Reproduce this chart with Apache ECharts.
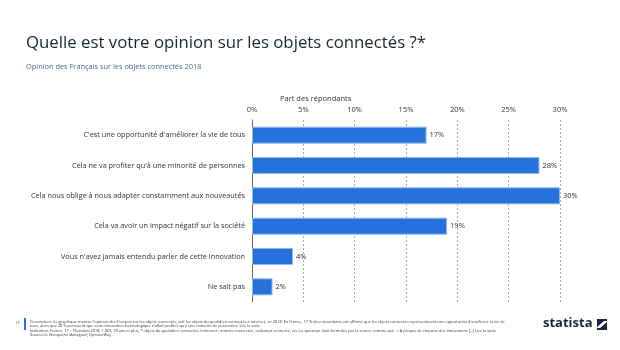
<!DOCTYPE html>
<html><head><meta charset="utf-8">
<script src="https://cdn.jsdelivr.net/npm/echarts@6/dist/echarts.min.js"></script>
<style>html,body{margin:0;padding:0;background:#fff}#c{width:620px;height:350px}</style>
</head><body><div id="c"></div>
<script>
var categories = [
  "C'est une opportunité d'améliorer la vie de tous",
  "Cela ne va profiter qu'à une minorité de personnes",
  "Cela nous oblige à nous adapter constamment aux nouveautés",
  "Cela va avoir un impact négatif sur la société",
  "Vous n'avez jamais entendu parler de cette innovation",
  "Ne sait pas"
];
var values = [17, 28, 30, 19, 4, 2];
var tickMax = 30;
var tickStep = 5;

var footer = "Description: Ce graphique montre l'opinion des Français sur les objets connectés, soit les objets du quotidien connectés à internet, en 2018. En France, 17 % des répondants ont affirmé que les objets connectés représentaient une opportunité d'améliorer la vie de tous, alors que 28 % pensaient que cette innovation technologique n'allait profiter qu'à une minorité de personnes. Lire la suite\nIndication: France; 17 - 19octobre2018; 1.063; 18 ans et plus; * objets du quotidien connectés à internet : montre connectée, radiateur connecté, etc. La question était formulée par la source comme suit : « A propos de chacune des innovations [...] Lire la suite\nSource(s): Groupama (Amaguiz); OpinionWay";

var chart = echarts.init(document.getElementById('c'), null, {renderer: 'canvas'});
var font = "'Open Sans', 'Noto Sans', sans-serif";
chart.setOption({
  animation: false,
  textStyle: {fontFamily: font},
  grid: {left: 252, right: 60, top: 120, bottom: 48},
  xAxis: {
    type: 'value', min: 0, max: tickMax, interval: tickStep, position: 'top',
    axisLine: {show: false}, axisTick: {show: false},
    axisLabel: {formatter: '{value}%', color: '#333', fontSize: 7.5, margin: 6, fontFamily: font},
    splitLine: {show: true, lineStyle: {type: [2, 2], color: '#aaa', width: 1}}
  },
  yAxis: {
    type: 'category', data: categories, inverse: true,
    axisLine: {show: true, lineStyle: {color: '#666', width: 1}},
    axisTick: {show: false},
    axisLabel: {color: '#333', fontSize: 7.3, margin: 7, fontFamily: font}
  },
  series: [{
    type: 'bar', data: values, barWidth: 17,
    itemStyle: {color: '#2771db', borderColor: '#8fb8ee', borderWidth: 1},
    label: {show: true, position: 'right', formatter: '{c}%', color: '#333', fontSize: 7.5, distance: 3, fontFamily: font}
  }],
  graphic: [
    {type: 'text', left: 26, top: 35, style: {text: 'Quelle est votre opinion sur les objets connectés ?*', font: '16.8px ' + font, fill: '#1c2333'}},
    {type: 'text', left: 26, top: 63, style: {text: 'Opinion des Français sur les objets connectés 2018', font: '7.4px ' + font, fill: '#4a6a8c'}},
    {type: 'text', left: 280, top: 95, style: {text: 'Part des répondants', font: '7.5px ' + font, fill: '#333'}},
    {type: 'rect', shape: {x: 24, y: 318, width: 2, height: 12}, style: {fill: '#2771db'}},
    {type: 'text', left: 15, top: 321, style: {text: '17', font: '4px ' + font, fill: '#333'}},
    {type: 'text', left: 30, top: 320, style: {text: footer, font: '3.9px ' + font, fill: '#333', width: 495, overflow: 'break', lineHeight: 4.2}},
    {type: 'text', left: 543, top: 317, style: {text: 'statista', font: 'bold 13px ' + font, fill: '#1c2540'}},
    {type: 'polygon', shape: {points: [[597,319],[607,319],[607,330],[597,330]]}, style: {fill: '#1c2540'}},
    {type: 'polygon', shape: {points: [[597,327],[604,321],[607,321],[607,322],[600,328],[597,328]]}, style: {fill: '#fff'}}
  ]
});
</script></body></html>
